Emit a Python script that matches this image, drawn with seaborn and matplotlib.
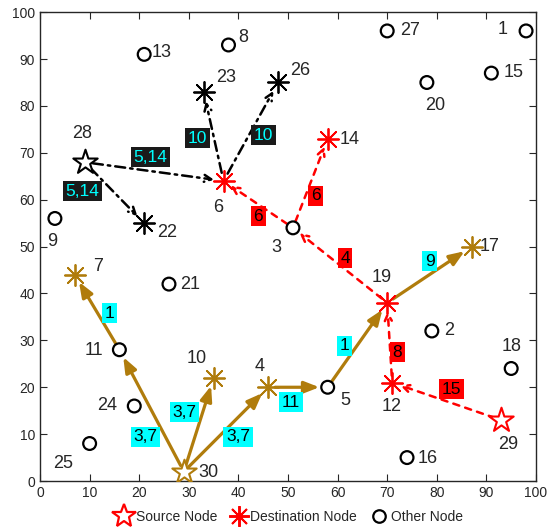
import matplotlib
matplotlib.use("Agg")
import matplotlib.pyplot as plt
from matplotlib.lines import Line2D
import pandas as pd
import seaborn as sns

# node coordinates
node_id = list(range(1, 31))
node_x = [98, 79, 51, 46, 58, 37, 7, 38, 3, 35, 16, 71, 21, 58, 91,
          74, 87, 95, 70, 78, 26, 21, 33, 19, 10, 48, 70, 9, 93, 29]
node_y = [96, 32, 54, 20, 20, 64, 44, 93, 56, 22, 28, 21, 91, 73, 87,
          5, 50, 24, 38, 85, 42, 55, 83, 16, 8, 85, 96, 68, 13, 2]

# sessions: source -> destinations
source_nodes = {28: 'black', 29: 'red', 30: 'brown'}
dest_nodes = {6: 'red', 14: 'red', 19: 'red', 12: 'red',
              22: 'black', 23: 'black', 26: 'black',
              7: 'brown', 10: 'brown', 4: 'brown', 17: 'brown'}

# edges (from, to, label, session)
edge_from = [28, 28, 6, 6, 3, 3, 19, 12, 29, 30, 11, 30, 30, 4, 5, 19]
edge_to = [6, 22, 23, 26, 6, 14, 3, 19, 12, 11, 7, 10, 4, 5, 19, 17]
edge_label = ['5,14', '5,14', '10', '10', '6', '6', '4', '8', '15',
              '3,7', '1', '3,7', '3,7', '11', '1', '9']
edge_kind = ['black'] * 4 + ['red'] * 5 + ['brown'] * 7

# where the edge labels sit
edge_label_pos = [(22.2, 69.1), (8.5, 61.8), (31.7, 73.1), (45, 73.8),
                  (44, 56.5), (55.6, 60.8), (61.5, 47.5), (72, 27.5), (83, 19.6),
                  (21.2, 9.4), (14.1, 35.8), (29.2, 14.7), (39.9, 9.4),
                  (50.6, 16.8), (61.3, 28.8), (78.6, 46.9)]

# node label offsets
label_off = {1: (-4.7, 0.2), 2: (3.5, 0.2), 3: (-3.4, -4.1), 4: (-1.8, 4.5),
             5: (3.5, -2.9), 6: (-1.1, -5.6), 7: (4.7, 1.8), 8: (3, 1.5),
             9: (-0.6, -5), 10: (-3.5, 4.2), 11: (-5.1, -0.1), 12: (-0.2, -5),
             13: (3.6, 0.5), 14: (4.5, -0.1), 15: (4.4, 0.2), 16: (4.2, -0.1),
             17: (3.7, 0.1), 18: (0, 4.6), 19: (-1.2, 5.5), 20: (1.6, -5),
             21: (4.2, 0), 22: (4.6, -1.9), 23: (4.5, 3), 24: (-5.5, 0.2),
             25: (-5.4, -4.2), 26: (4.4, 2.6), 27: (4.6, 0), 28: (-0.5, 6.2),
             29: (1.4, -5.3), 30: (5, -0.1)}

BROWN = '#B07C0C'
colors = {'black': 'black', 'red': 'red', 'brown': BROWN}
ASTER = (8, 2, 0)

sns.set_style('ticks')
plt.rcParams['font.family'] = ['Liberation Sans', 'DejaVu Sans']

df = pd.DataFrame({'id': node_id, 'x': node_x, 'y': node_y})
df['role'] = ['source' if i in source_nodes else 'dest' if i in dest_nodes else 'other'
              for i in df['id']]
df['sess'] = [source_nodes.get(i, dest_nodes.get(i, 'black')) for i in df['id']]

fig, ax = plt.subplots(figsize=(5.56, 5.29), dpi=100)
fig.subplots_adjust(left=0.072, right=0.964, top=0.977, bottom=0.0907)

pos = dict(zip(node_id, zip(node_x, node_y)))

# edges
for a, b, lab, kind, lp in zip(edge_from, edge_to, edge_label, edge_kind, edge_label_pos):
    c = colors[kind]
    if kind == 'brown':
        props = dict(arrowstyle='-|>,head_length=0.9,head_width=0.35', color=c, lw=2.3,
                     shrinkA=5, shrinkB=6)
        bb = dict(boxstyle='square,pad=0.15', fc='cyan', ec='none')
        tc = 'black'
    elif kind == 'red':
        props = dict(arrowstyle='->,head_length=0.5,head_width=0.25', color=c, lw=1.8,
                     ls=(0, (2.5, 2.5)), shrinkA=5, shrinkB=6)
        bb = dict(boxstyle='square,pad=0.15', fc='red', ec='none')
        tc = 'black'
    else:
        props = dict(arrowstyle='->,head_length=0.5,head_width=0.25', color=c, lw=1.8,
                     ls=(0, (4, 2, 1, 2)), shrinkA=6, shrinkB=7)
        bb = dict(boxstyle='square,pad=0.15', fc='#1a1a1a', ec='none')
        tc = 'cyan'
    ax.annotate('', xy=pos[b], xytext=pos[a], arrowprops=props, zorder=2)
    ax.text(lp[0], lp[1], lab, ha='center', va='center', fontsize=12.5,
            color=tc, bbox=bb, zorder=4)

# nodes
for (role, sess), g in df.groupby(['role', 'sess']):
    c = colors[sess]
    if role == 'source':
        sns.scatterplot(data=g, x='x', y='y', marker='*', s=340, facecolor='white',
                        edgecolor=c, linewidth=1.5, ax=ax, zorder=5, legend=False)
    elif role == 'dest':
        ax.scatter(g['x'], g['y'], marker=ASTER, s=230, color=c, linewidths=1.3, zorder=5)
    else:
        sns.scatterplot(data=g, x='x', y='y', marker='o', s=85, facecolor='none',
                        edgecolor=c, linewidth=1.6, ax=ax, zorder=5, legend=False)

for i, x, y in zip(node_id, node_x, node_y):
    dx, dy = label_off[i]
    ax.text(x + dx, y + dy, str(i), ha='center', va='center', fontsize=13, zorder=6)

ax.set_xlim(0, 100)
ax.set_ylim(0, 100)
ax.set_xticks(range(0, 101, 10))
ax.set_yticks(range(0, 101, 10))
ax.tick_params(direction='in', top=True, right=True, labelsize=10, length=5)
ax.set_xlabel('')
ax.set_ylabel('')
for sp in ax.spines.values():
    sp.set_visible(True)
    sp.set_linewidth(1.0)

handles = [
    Line2D([], [], ls='none', marker='*', ms=18, mfc='white', mec='red', mew=1.6),
    Line2D([], [], ls='none', marker=ASTER, ms=15, color='red', mew=1.4),
    Line2D([], [], ls='none', marker='o', ms=9, mfc='none', mec='black', mew=1.6),
]
ax.legend(handles, ['Source Node', 'Destination Node', 'Other Node'], loc='center',
          bbox_to_anchor=(0.5, -0.077), ncol=3, frameon=False, fontsize=10,
          handletextpad=0.1, columnspacing=0.8, handlelength=1.5)

fig.savefig('out.png', dpi=100)
